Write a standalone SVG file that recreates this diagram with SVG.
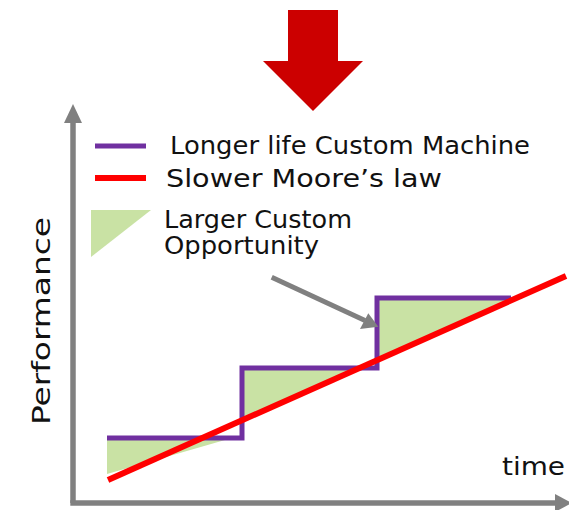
<svg xmlns="http://www.w3.org/2000/svg" width="569" height="510" viewBox="0 0 569 510">
<style>
text{font-family:"DejaVu Sans","Liberation Sans",sans-serif;font-size:24px;fill:#111}
.axis{stroke:#808080;stroke-width:5.5;fill:none}
.purple{stroke:#7030A0;stroke-width:5;fill:none}
.red{stroke:#FF0000;stroke-width:6;fill:none}
.green{fill:#C9E2A4}
</style>
<rect width="569" height="510" fill="#fff"/>
<g id="big-arrow">
<polygon points="288,10 338,10 338,61 363,61 313,111 263,61 288,61" fill="#CC0000"/>
</g>
<g id="axes">
<line class="axis" x1="73" y1="120" x2="73" y2="503"/>
<polygon points="73,104 64,123 82,123" fill="#808080"/>
<line class="axis" x1="70.3" y1="503" x2="556" y2="503"/>
<polygon points="572,503 555,494 555,512" fill="#808080"/>
</g>
<g id="legend">
<line class="purple" x1="95" y1="146" x2="146" y2="146"/>
<line class="red" x1="95" y1="178" x2="146" y2="178"/>
<polygon class="green" points="91,210 151,210 91,257"/>
<text x="170" y="154" textLength="360" lengthAdjust="spacingAndGlyphs">Longer life Custom Machine</text>
<text x="166" y="187" textLength="276" lengthAdjust="spacingAndGlyphs">Slower Moore’s law</text>
<text x="164" y="228" textLength="188" lengthAdjust="spacingAndGlyphs">Larger Custom</text>
<text x="164" y="254" textLength="155" lengthAdjust="spacingAndGlyphs">Opportunity</text>
</g>
<g id="labels">
<text transform="translate(50,425) rotate(-90)" textLength="208" lengthAdjust="spacingAndGlyphs">Performance</text>
<text x="502" y="475" textLength="63" lengthAdjust="spacingAndGlyphs">time</text>
</g>
<g id="chart">
<polygon class="green" points="107,440 225,440 107,474"/>
<polygon class="green" points="242,370 355,370 242,421"/>
<polygon class="green" points="377,300 512,300 377,361"/>
<polyline class="purple" points="107,438 242,438 242,368 377,368 377,298 511,298"/>
<line class="red" x1="108" y1="480" x2="566" y2="276"/>
</g>
<g id="connectors">
<line x1="271.7" y1="277.3" x2="365" y2="320.5" stroke="#808080" stroke-width="5"/>
<polygon points="378.3,326.7 360,329 368.3,313.3" fill="#808080"/>
</g>
</svg>
